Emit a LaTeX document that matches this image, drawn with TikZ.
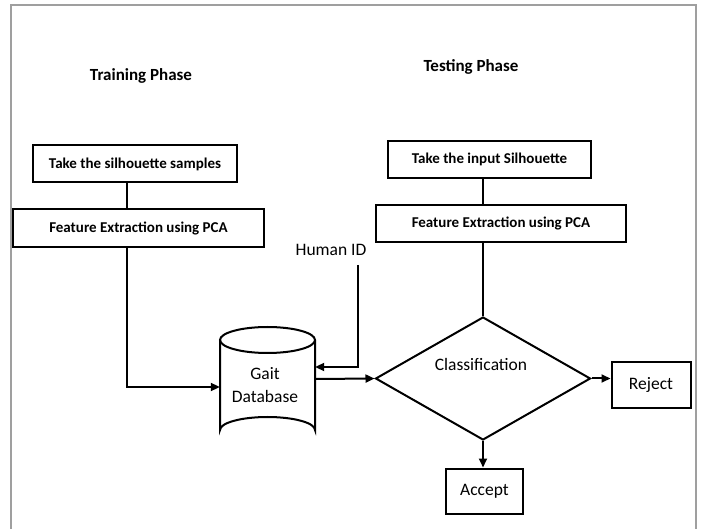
\documentclass[tikz,border=0pt]{standalone}
\usepackage{fontspec}
\setmainfont{Carlito}
\usetikzlibrary{arrows.meta,shapes.geometric}
\begin{document}
\begin{tikzpicture}[x=1pt,y=-1pt,
  box/.style={draw=black, line width=2pt, minimum width=#1, inner sep=0pt, font=\bfseries\fontsize{15}{17}\selectfont},
  endbox/.style={draw=black, line width=2pt, inner sep=0pt, font=\fontsize{17.5}{20}\selectfont},
  conn/.style={line width=2pt, draw=black},
  arr/.style={conn, -{Triangle[length=9pt,width=8pt]}},
  title/.style={font=\bfseries\fontsize{17}{19}\selectfont},
  lbl/.style={font=\fontsize{17.5}{20}\selectfont}
]
\useasboundingbox (0,0) rectangle (710,529);
% frame
\draw[gray!75, line width=2pt] (11,535) -- (11,5) -- (696,5) -- (696,535);

% titles
\node[title] (ttrain) at (141,76) {Training Phase};
\node[title] (ttest) at (471,67) {Testing Phase};

% training boxes
\node[box=204pt, minimum height=37pt] (s1) at (135,164) {Take the silhouette samples};
\node[box=251pt, minimum height=38pt] (f1) at (138.5,228.5) {Feature Extraction using PCA};

% testing boxes
\node[box=203pt, minimum height=37pt] (s2) at (489.5,159.5) {Take the input Silhouette};
\node[box=250pt, minimum height=37pt] (f2) at (501,223.5) {Feature Extraction using PCA};

% database (cylinder)
\node[minimum width=95pt, minimum height=116pt, inner sep=0pt] (db) at (267.5,385) {};
\draw[line width=2pt] (220,340) -- (220,430) arc[start angle=180, end angle=360, x radius=47.5, y radius=13] -- (315,340);
\draw[line width=2pt] (267.5,340) ellipse[x radius=47.5, y radius=13];
\node[lbl, align=center] (dbt) at (265,385) {Gait\\[3pt]Database};

% human ID
\node[lbl] (hid) at (331,250) {Human ID};
\coordinate (hidtop) at (358,265);

% diamond
\node[diamond, draw=black, line width=2pt, minimum width=215pt, minimum height=123pt, inner sep=0pt] (cls) at (483,378.5) {};
\node[lbl] (clst) at (481,364) {Classification};

% outcomes
\node[endbox, minimum width=79pt, minimum height=46pt] (rej) at (651,385) {Reject};
\node[endbox, minimum width=77pt, minimum height=45pt] (acc) at (484.5,491) {Accept};

% connectors
\draw[conn] (s1.south -| 127,0) -- (f1.north -| 127,0);
\draw[conn] (s2.south -| 483,0) -- (f2.north -| 483,0);
\draw[arr] (f1.south -| 127,0) -- (127,387) -- (db.west |- 0,387);
\draw[arr] (hidtop) -- (358,367) -- (db.east |- 0,367);
\draw[arr] (db.east |- 0,379) -- (cls.west);
\draw[conn] (f2.south -| 483,0) -- (cls.north);
\draw[arr] (cls.east) -- (rej.west |- cls.east);
\draw[arr] (cls.south) -- (acc.north -| cls.south);
\end{tikzpicture}
\end{document}
